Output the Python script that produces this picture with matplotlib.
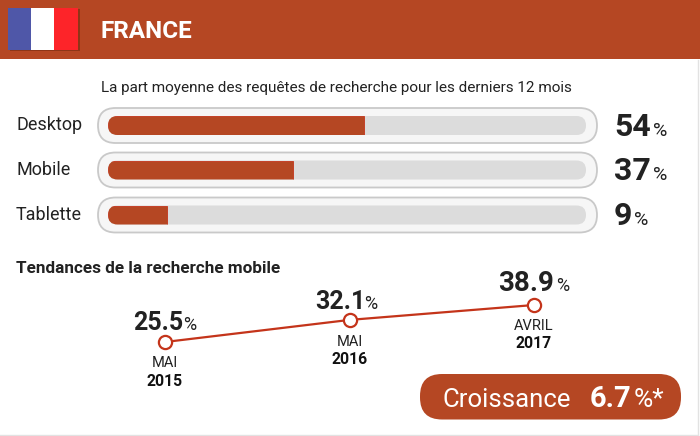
import matplotlib
matplotlib.use('Agg')
import matplotlib.pyplot as plt
from matplotlib.patches import FancyBboxPatch, Rectangle

plt.rcParams['font.family'] = ['Roboto', 'DejaVu Sans']

RUST = '#b54723'
LINE_RED = '#c4341a'
DARK = '#222222'

country = 'FRANCE'
subtitle = 'La part moyenne des requêtes de recherche pour les derniers 12 mois'
devices = ['Desktop', 'Mobile', 'Tablette']
# printed numbers and the lengths the bars really have in the picture
share_labels = ['54', '37', '9']
bar_lengths = [53.5, 38.7, 12.3]

trend_title = 'Tendances de la recherche mobile'
trend_labels = ['25.5', '32.1', '38.9']
# same thing for the line, the middle point sits higher than its label says
trend_drawn = [25.5, 33.5, 38.9]
trend_months = ['MAI', 'MAI', 'AVRIL']
trend_years = ['2015', '2016', '2017']
growth = '6.7'

fig = plt.figure(figsize=(7, 4.36), dpi=100)

# background axes in pixels, for header, flag, frames and pill
bg = fig.add_axes([0, 0, 1, 1])
bg.set_xlim(0, 700)
bg.set_ylim(436, 0)
bg.axis('off')

bg.add_patch(Rectangle((0, 0), 700, 59.5, fc=RUST, ec='none'))
bg.plot([697.5, 697.5], [60, 435], color='#e2e2e2', lw=1)
bg.plot([0, 697.5], [435, 435], color='#e2e2e2', lw=1)

bg.add_patch(Rectangle((9.5, 9.5), 70, 42, fc='#8e3517', ec='none'))
for x0, w, col in [(8, 23, '#4f57a8'), (31, 23, '#ffffff'), (54, 24, '#fd2429')]:
    bg.add_patch(Rectangle((x0, 8), w, 42, fc=col, ec='none'))

bg.text(101, 38, country, color='white', fontsize=17.5, fontweight='bold', va='baseline')
bg.text(101, 92, subtitle, color=DARK, fontsize=11, va='baseline')
bg.text(16, 273, trend_title, color=DARK, fontsize=12.3, fontweight='bold', va='baseline')

row_y = [125.5, 170, 215]
tracks = []
for y, name, lab in zip(row_y, devices, share_labels):
    bg.add_patch(FancyBboxPatch((98, y - 17.5), 499, 35, boxstyle='round,pad=0,rounding_size=17.5',
                                fc='#f6f6f6', ec='#c9c9c9', lw=1.3))
    track = FancyBboxPatch((108, y - 9.5), 478, 19, boxstyle='round,pad=0,rounding_size=9.5',
                           fc='#dcdcdc', ec='none')
    bg.add_patch(track)
    tracks.append(track)
    bg.text(16, y + 4.5, name, color=DARK, fontsize=13, va='baseline')
    t = bg.text(614, y + 10, lab, color=DARK, fontsize=23, fontweight='bold', va='baseline')
    fig.canvas.draw()
    x1 = bg.transData.inverted().transform(t.get_window_extent().get_points())[1][0]
    bg.text(x1 + 2, y + 10, '%', color=DARK, fontsize=14, va='baseline')

# growth pill
bg.add_patch(FancyBboxPatch((420, 374), 261, 45.5, boxstyle='round,pad=0,rounding_size=22',
                            fc=RUST, ec='none'))
bg.text(442, 407, 'Croissance', color='white', fontsize=18.5, va='baseline')
bg.text(590, 407, growth, color='white', fontsize=21, fontweight='bold', va='baseline')
bg.text(634, 407, '%*', color='white', fontsize=19, va='baseline')

# share bars, x axis is 0-100 percent across the track
ax = fig.add_axes([108 / 700, 1 - 237.75 / 436, 478 / 700, 134.25 / 436])
ax.set_xlim(0, 100)
ax.set_ylim(2.5, -0.5)
ax.axis('off')
bars = ax.barh(range(len(devices)), bar_lengths, height=19 / 44.75, color=RUST, edgecolor=LINE_RED, lw=0.6)
for bar, track in zip(bars, tracks):
    bar.set_clip_path(track)

# trend line
ax2 = fig.add_axes([165 / 700, 1 - 342 / 436, 369 / 700, 37 / 436])
ax2.set_xlim(0, 2)
ax2.set_ylim(25.5, 38.9)
ax2.axis('off')
xs = list(range(len(trend_drawn)))
ax2.plot(xs, trend_drawn, color=LINE_RED, lw=1.6, marker='o', ms=9.5, mfc='white', mec=LINE_RED,
         mew=1.6, clip_on=False)

value_offsets = [(-32, 12), (-34, 11), (-36, 14)]
value_sizes = [18, 18, 20]
percent_offsets = [18, 15, 22]
month_offsets = [25, 26, 25]
for i, x in enumerate(xs):
    dx, dy = value_offsets[i]
    ax2.annotate(trend_labels[i], (x, trend_drawn[i]), xytext=(dx, dy), textcoords='offset pixels',
                 color=DARK, fontsize=value_sizes[i], fontweight='bold', va='baseline', ha='left',
                 annotation_clip=False)
    ax2.annotate('%', (x, trend_drawn[i]), xytext=(percent_offsets[i], dy), textcoords='offset pixels',
                 color=DARK, fontsize=13, va='baseline', ha='left', annotation_clip=False)
    ax2.annotate(trend_months[i], (x, trend_drawn[i]), xytext=(0, -month_offsets[i]), textcoords='offset pixels',
                 color=DARK, fontsize=10.5, va='baseline', ha='center', annotation_clip=False)
    ax2.annotate(trend_years[i], (x, trend_drawn[i]), xytext=(0, -month_offsets[i] - 18.5), textcoords='offset pixels',
                 color='#111111', fontsize=11.3, fontweight='bold', va='baseline', ha='center', annotation_clip=False)

fig.savefig('out.png', dpi=100)
